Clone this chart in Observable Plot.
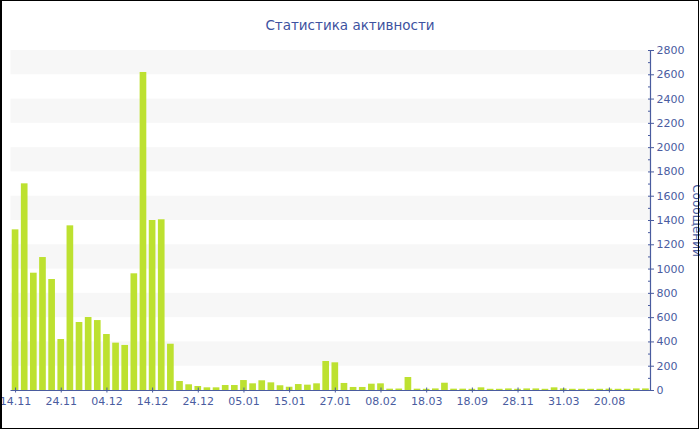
<!DOCTYPE html>
<html><head><meta charset="utf-8">
<script src="https://cdn.jsdelivr.net/npm/d3@7"></script>
<script src="https://cdn.jsdelivr.net/npm/@observablehq/plot@0.6"></script>
<style>
body{margin:0;background:#fff;}
#wrap{position:relative;width:700px;height:430px;overflow:hidden;font-family:"DejaVu Sans",sans-serif;background:#fff;}
#title{height:44px;box-sizing:border-box;padding-top:16px;text-align:center;font-size:13.5px;color:#3d52a0;line-height:18px;}
#frame{position:absolute;left:0;top:0;width:699px;height:429px;box-sizing:border-box;border:1px solid #000;border-left-width:2px;pointer-events:none;}
svg{display:block;}
</style></head>
<body><div id="wrap"><div id="title">Статистика активности</div><div id="chart"></div><div id="frame"></div></div>
<script>
// message counts per period (70 periods)
const values = [1323,1702,966,1095,914,420,1356,560,601,576,
  461,390,371,961,2619,1400,1406,381,74,47,
  33,22,22,41,41,82,55,80,63,39,
  27,49,44,55,239,228,58,25,25,52,
  55,11,12,107,11,10,13,60,11,11,
  10,22,10,10,13,10,13,13,10,22,
  13,10,10,10,10,11,10,10,13,13];
// labels shown under every 5th bar
const tickLabels = ["14.11","24.11","04.12","14.12","24.12","05.01","15.01","27.01","08.02","18.03","18.09","28.11","31.03","20.08"];
const tickIndex = [0,5,10,15,20,25,30,35,40,45,50,55,60,65];
const yTicks = [0,200,400,600,800,1000,1200,1400,1600,1800,2000,2200,2400,2600,2800];
const yMinor = [100,300,500,700,900,1100,1300,1500,1700,1900,2100,2300,2500,2700];
const bandLo = [200,600,1000,1400,1800,2200,2600];
const bandHi = [400,800,1200,1600,2000,2400,2800];
const yTitle = "Сообщений";

const data = values.map((v, i) => ({i, v}));
const bands = bandLo.map((lo, k) => ({lo, hi: bandHi[k]}));
const axisColor = "#4a5c9f";

const chart = Plot.plot({
  width: 700, height: 386,
  marginTop: 6, marginBottom: 40, marginLeft: 10.5, marginRight: 50,
  style: {fontFamily: "DejaVu Sans, sans-serif", fontSize: "11px", color: axisColor, background: "transparent", overflow: "visible"},
  x: {type: "band", domain: data.map(d => d.i), paddingInner: 0.27, paddingOuter: 0.135, round: false, axis: null},
  y: {domain: [0, 2800], axis: null},
  marks: [
    Plot.rect(bands, {y1: "lo", y2: "hi", fill: "#f7f7f7"}),
    Plot.barY(data, {x: "i", y: "v", fill: "#bde130"}),
    Plot.ruleY([0], {stroke: axisColor, strokeWidth: 1.2}),
    Plot.frame({anchor: "right", stroke: axisColor, strokeWidth: 1.2}),
    Plot.axisX(tickIndex, {anchor: "bottom", tickSize: 2.5, tickPadding: 4, tickFormat: i => tickLabels[tickIndex.indexOf(i)], stroke: axisColor, fill: axisColor, fontSize: 11, label: null}),
    Plot.axisX(tickIndex, {anchor: "bottom", tickSize: -2.5, text: null, stroke: axisColor, label: null}),
    Plot.axisY(yTicks, {anchor: "right", tickSize: 3, tickPadding: 3, tickFormat: d => String(d), stroke: axisColor, fill: axisColor, fontSize: 11, label: null}),
    Plot.axisY(yTicks, {anchor: "right", tickSize: -3, text: null, stroke: axisColor, label: null}),
    Plot.axisY(yMinor, {anchor: "right", tickSize: -3, text: null, stroke: axisColor, label: null}),
    Plot.text([yTitle], {frameAnchor: "right", textAnchor: "middle", dx: 46, rotate: 90, fill: axisColor, fontSize: 12})
  ]
});
document.getElementById("chart").appendChild(chart);
</script>
</body></html>
